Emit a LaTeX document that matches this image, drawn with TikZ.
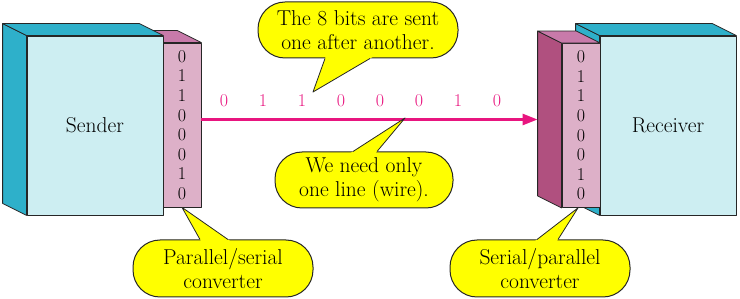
\documentclass[tikz,border=0pt]{standalone}
\usetikzlibrary{positioning,arrows.meta,calc}
\definecolor{unitfront}{HTML}{CDEEF2}
\definecolor{unitdark}{HTML}{2EB0CA}
\definecolor{convfront}{HTML}{DDB0C8}
\definecolor{convtop}{HTML}{C87AAA}
\definecolor{convside}{HTML}{B0507F}
\definecolor{wiremag}{HTML}{E8157F}
\definecolor{noteyellow}{HTML}{FFFF00}

% top and left faces behind a front node
\newcommand{\depthfaces}[3]{%
  \filldraw[face,fill=#3] (#1.north west) -- ++(-24,-12) -- ($(#1.south west)+(-24,-12)$) -- (#1.south west) -- cycle;
  \filldraw[face,fill=#2] (#1.north west) -- ++(-24,-12) -- ($(#1.north east)+(-24,-12)$) -- (#1.north east) -- cycle;}
% callout tail: base left, base right, tip
\newcommand{\tail}[3]{%
  \fill[noteyellow] (#3) -- ($(#3)!1.1!(#1)$) -- ($(#3)!1.1!(#2)$) -- cycle;
  \draw[face] (#1) -- (#3) -- (#2);}

\begin{document}
\begin{tikzpicture}[x=1pt,y=-1pt,line width=0.8pt,
  face/.style={draw=black!85,line join=round},
  unit/.style={face,fill=unitfront,minimum width=136pt,minimum height=179pt,inner sep=0pt,font=\fontsize{21.5}{24}\selectfont},
  conv/.style={face,fill=convfront,minimum width=38pt,minimum height=164pt,inner sep=0pt,align=center,font=\fontsize{18}{19.6}\selectfont},
  bit/.style={text=wiremag,font=\fontsize{18}{20}\selectfont},
  note/.style={face,line width=1pt,fill=noteyellow,rounded corners=27pt,minimum height=56pt,inner sep=0pt,align=center,font=\fontsize{21.5}{24}\selectfont},
  >={Triangle[length=15pt,width=11pt]}]
\useasboundingbox (0,0) rectangle (740,299);

% sender side
\node[conv] (pconv) at (182,125) {0\\1\\1\\0\\0\\0\\1\\0};
\depthfaces{pconv}{convtop}{convside}
\node[unit] (sender) at (95,125.5) {Sender};
\depthfaces{sender}{unitdark}{unitdark}

% receiver side
\node[unit] (receiver) at (668,125.5) {Receiver};
\depthfaces{receiver}{unitdark}{unitdark}
\node[conv] (sconv) at (581,125.5) {0\\1\\1\\0\\0\\0\\1\\0};
\depthfaces{sconv}{convtop}{convside}
\coordinate (sconvback) at ($(sconv.west)+(-24,0)$);

% the single wire
\draw[wiremag,line width=2.4pt,->] ([yshift=5.5pt]pconv.east) -- ([yshift=5.5pt]pconv.east -| sconvback);
\foreach \b [count=\i] in {0,1,1,0,0,0,1,0}
  \node[bit] (bit\i) at (185+39*\i,101) {\b};

% callouts
\node[note,minimum width=200pt] (sent) at (358,30) {The 8 bits are sent\\one after another.};
\coordinate (sentl) at ([xshift=-33pt]sent.south);
\coordinate (sentr) at ([xshift=12pt]sent.south);
\coordinate (senttip) at (313,92);
\tail{sentl}{sentr}{senttip}

\node[note,minimum width=178pt] (wire) at (364,180) {We need only\\one line (wire).};
\coordinate (wirel) at ([xshift=-11pt]wire.north);
\coordinate (wirer) at ([xshift=13pt]wire.north);
\coordinate (wiretip) at (405,118);
\tail{wirel}{wirer}{wiretip}

\node[note,minimum width=180pt,minimum height=57pt] (ps) at (223,268.5) {Parallel/serial\\converter};
\coordinate (psl) at ([xshift=-23pt]ps.north);
\coordinate (psr) at ([xshift=5pt]ps.north);
\tail{psl}{psr}{pconv.south}

\node[note,minimum width=180pt,minimum height=57pt] (sp) at (540,268.5) {Serial/parallel\\converter};
\coordinate (spl) at ([xshift=-3pt]sp.north);
\coordinate (spr) at ([xshift=18pt]sp.north);
\coordinate (sptip) at ([xshift=-3pt]sconv.south);
\tail{spl}{spr}{sptip}
\end{tikzpicture}
\end{document}
